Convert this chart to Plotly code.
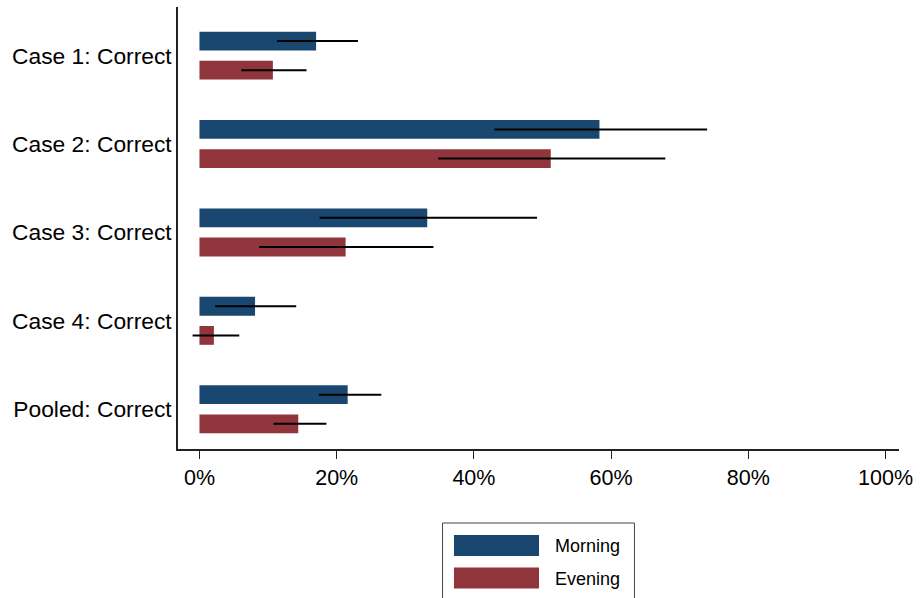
import plotly.graph_objects as go

# Share of correct answers by case and session, with 95% confidence bounds
categories = ["Case 1: Correct", "Case 2: Correct", "Case 3: Correct",
              "Case 4: Correct", "Pooled: Correct"]
series_names = ["Morning", "Evening"]

morning = [17.0, 58.3, 33.2, 8.1, 21.6]
morning_lo = [11.3, 43.0, 17.5, 2.3, 17.4]
morning_hi = [23.1, 74.0, 49.2, 14.1, 26.5]

evening = [10.7, 51.2, 21.3, 2.1, 14.4]
evening_lo = [6.1, 34.8, 8.7, -1.0, 10.8]
evening_hi = [15.6, 67.9, 34.1, 5.8, 18.5]

x_ticks = [0, 20, 40, 60, 80, 100]
x_tick_labels = ["0%", "20%", "40%", "60%", "80%", "100%"]

colors = {"Morning": "#1a476f", "Evening": "#90353b"}
FONT = "Liberation Sans, Arial, Helvetica, sans-serif"

W, H = 920, 598
ML, MR, MT, MB = 178, 17, 7, 149


def px_x(px):
    return (px - ML) / (W - ML - MR)


def px_y(py):
    return (H - MB - py) / (H - MT - MB)


fig = go.Figure()
for name, vals, lo, hi in [("Morning", morning, morning_lo, morning_hi),
                           ("Evening", evening, evening_lo, evening_hi)]:
    fig.add_trace(go.Bar(
        name=name, y=categories, x=vals, orientation="h",
        marker=dict(color=colors[name], line=dict(width=0)),
        error_x=dict(type="data", symmetric=False,
                     array=[h - v for h, v in zip(hi, vals)],
                     arrayminus=[v - l for v, l in zip(vals, lo)],
                     color="black", thickness=2, width=0),
        showlegend=False,
    ))

# Boxed key below the plot
shapes = [dict(type="rect", xref="paper", yref="paper",
               x0=px_x(444), x1=px_x(637), y0=px_y(523), y1=px_y(602),
               line=dict(color="#444444", width=1), fillcolor="white")]
annotations = []
for i, name in enumerate(series_names):
    top = 535 + i * 32.5
    shapes.append(dict(type="rect", xref="paper", yref="paper",
                       x0=px_x(455.5), x1=px_x(541), y0=px_y(top), y1=px_y(top + 21),
                       line=dict(width=0), fillcolor=colors[name]))
    annotations.append(dict(xref="paper", yref="paper", x=px_x(555), y=px_y(top + 11),
                            text=name, showarrow=False, xanchor="left", yanchor="middle",
                            font=dict(family=FONT, size=18, color="black")))

fig.update_layout(
    width=W, height=H,
    margin=dict(l=ML, r=MR, t=MT, b=MB, pad=0),
    paper_bgcolor="white", plot_bgcolor="white",
    barmode="group", bargap=0.34, bargroupgap=0.355,
    font=dict(family=FONT, color="black"),
    shapes=shapes, annotations=annotations,
    xaxis=dict(range=[-3.13, 101.96], tickvals=x_ticks, ticktext=x_tick_labels,
               showgrid=False, zeroline=False, showline=True, linecolor="#222222",
               linewidth=1.5, ticks="outside", ticklen=8, tickwidth=1.2,
               tickcolor="#222222", tickfont=dict(size=21.5, family=FONT, color="black")),
    yaxis=dict(type="category", range=[4.45, -0.55], showgrid=False, zeroline=False,
               showline=True, linecolor="#222222", linewidth=1.5, ticks="",
               ticklabelstandoff=0, tickfont=dict(size=22.8, family=FONT, color="black")),
)

fig.write_html("out.html")
